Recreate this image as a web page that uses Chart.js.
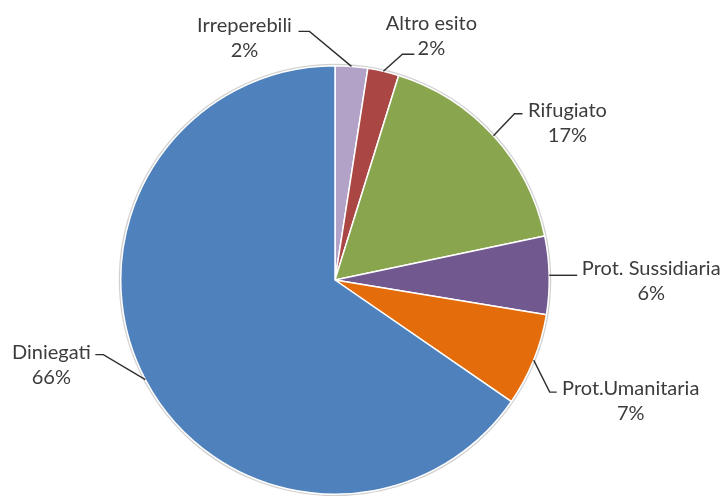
<!DOCTYPE html>
<html>
<head>
<meta charset="utf-8">
<script src="https://cdn.jsdelivr.net/npm/chart.js@4"></script>
<style>
html,body{margin:0;padding:0;background:#fff;}
#wrap{width:723px;height:496px;position:relative;}
</style>
</head>
<body>
<div id="wrap"><canvas id="c" width="723" height="496"></canvas></div>
<script>
const categories = ["Irreperebili", "Altro esito", "Rifugiato", "Prot. Sussidiaria", "Prot.Umanitaria", "Diniegati"];
const values = [2.45, 2.35, 16.9, 5.9, 7.0, 65.4];
const percentLabels = ["2%", "2%", "17%", "6%", "7%", "66%"];
const colors = ["#B3A2C7", "#AA4643", "#89A54E", "#71588F", "#E46C0A", "#4F81BD"];

// label layout relative to the leader anchor on the slice edge:
// (dx,dy) centre of first text line, (ex,ey) elbow of leader, hx horizontal tail length
const labelLayout = [
  {dx: -107, dy: -41, ex: -42, ey: -35, hx: -11},
  {dx: 48,   dy: -48, ex: 19,  ey: -17, hx: 12},
  {dx: 74,   dy: -25, ex: 21,  ey: -22, hx: 8},
  {dx: 102,  dy: -7,  ex: 0,   ey: 0,   hx: 28},
  {dx: 97,   dy: 28,  ex: 16,  ey: 32,  hx: 7},
  {dx: -94,  dy: -27, ex: -42, ey: -25, hx: -8}
];

const pieShadow = {
  id: 'pieShadow',
  beforeDatasetsDraw(chart) {
    const arc = chart.getDatasetMeta(0).data[0];
    if (!arc) return;
    const p = arc.getProps(['x','y','outerRadius'], true);
    const ctx = chart.ctx;
    ctx.save();
    ctx.beginPath();
    ctx.arc(p.x, p.y, p.outerRadius + 1, 0, Math.PI * 2);
    ctx.strokeStyle = 'rgba(0,0,0,0.18)';
    ctx.lineWidth = 2;
    ctx.stroke();
    ctx.restore();
  }
};

const leaderLabels = {
  id: 'leaderLabels',
  afterDatasetsDraw(chart) {
    const ctx = chart.ctx;
    const meta = chart.getDatasetMeta(0);
    ctx.save();
    ctx.font = '20px Lato, "Open Sans", sans-serif';
    ctx.textAlign = 'center';
    ctx.textBaseline = 'middle';
    meta.data.forEach((arc, i) => {
      const p = arc.getProps(['x','y','startAngle','endAngle','outerRadius'], true);
      const mid = (p.startAngle + p.endAngle) / 2;
      const ax = p.x + Math.cos(mid) * p.outerRadius;
      const ay = p.y + Math.sin(mid) * p.outerRadius;
      const L = labelLayout[i];
      const ex = ax + L.ex, ey = ay + L.ey;
      ctx.strokeStyle = '#2e2e2e';
      ctx.lineWidth = 1.4;
      ctx.beginPath();
      ctx.moveTo(ax, ay);
      ctx.lineTo(ex, ey);
      ctx.lineTo(ex + L.hx, ey);
      ctx.stroke();
      const lx = ax + L.dx, ly = ay + L.dy;
      ctx.fillStyle = '#3c3c3c';
      ctx.fillText(categories[i], lx, ly);
      ctx.fillText(percentLabels[i], lx, ly + 25);
    });
    ctx.restore();
  }
};

new Chart(document.getElementById('c'), {
  type: 'pie',
  data: {
    labels: categories,
    datasets: [{
      data: values,
      backgroundColor: colors,
      borderColor: '#ffffff',
      borderWidth: 1.5
    }]
  },
  options: {
    responsive: false,
    animation: false,
    layout: {padding: {left: 120, right: 173, top: 65, bottom: 1}},
    plugins: {legend: {display: false}, tooltip: {enabled: false}}
  },
  plugins: [pieShadow, leaderLabels]
});
</script>
</body>
</html>
